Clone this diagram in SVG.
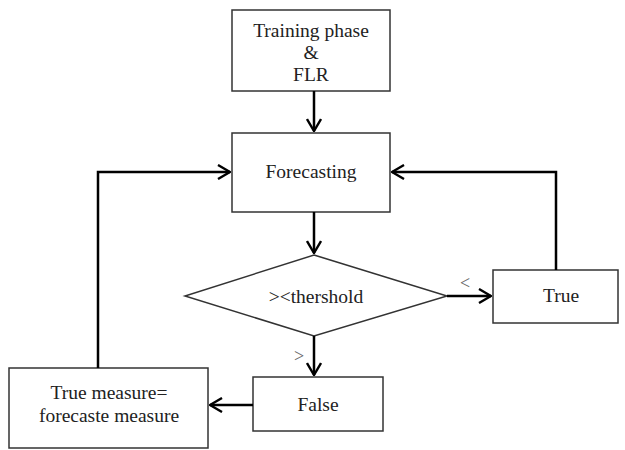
<svg xmlns="http://www.w3.org/2000/svg" width="625" height="450" viewBox="0 0 625 450">
<defs>
<marker id="arr" viewBox="0 0 14 16" refX="13" refY="8" markerWidth="14" markerHeight="16" markerUnits="userSpaceOnUse" orient="auto">
<path d="M1,1 L13,8 L1,15" fill="none" stroke="#000" stroke-width="2.4"/>
</marker>
</defs>
<style>
.box{fill:#fff;stroke:#333;stroke-width:1.5}
.t{font-family:"Liberation Serif","Times New Roman","DejaVu Serif",serif;font-size:19.5px;fill:#222;text-anchor:middle}
.c{fill:none;stroke:#000;stroke-width:2.5}
.lbl{font-family:"Liberation Serif","Times New Roman","DejaVu Serif",serif;font-size:18px;fill:#666;text-anchor:middle}
</style>
<rect width="625" height="450" fill="#fff"/>
<g id="training">
<rect class="box" x="232" y="10" width="158" height="81"/>
<text class="t" x="311" y="37">Training phase</text>
<text class="t" x="311" y="59">&amp;</text>
<text class="t" x="311" y="81">FLR</text>
</g>
<g id="forecasting">
<rect class="box" x="232" y="133" width="158" height="79"/>
<text class="t" x="311" y="178">Forecasting</text>
</g>
<g id="threshold">
<polygon class="box" points="314,255 447,296 314,336 185,296"/>
<text class="t" x="316" y="303">&gt;&lt;thershold</text>
</g>
<g id="true">
<rect class="box" x="493" y="270" width="125" height="53"/>
<text class="t" x="561" y="302">True</text>
</g>
<g id="false">
<rect class="box" x="253" y="377" width="130" height="54"/>
<text class="t" x="318" y="411">False</text>
</g>
<g id="update">
<rect class="box" x="9" y="368" width="199" height="80"/>
<text class="t" x="109" y="399">True measure=</text>
<text class="t" x="109" y="422">forecaste measure</text>
</g>
<g id="connectors">
<line class="c" x1="314" y1="91" x2="314" y2="131" marker-end="url(#arr)"/>
<line class="c" x1="314" y1="212" x2="314" y2="253" marker-end="url(#arr)"/>
<line class="c" x1="447" y1="296" x2="491" y2="296" marker-end="url(#arr)"/>
<polyline class="c" points="556,270 556,172 392,172" marker-end="url(#arr)"/>
<line class="c" x1="314" y1="336" x2="314" y2="375" marker-end="url(#arr)"/>
<line class="c" x1="253" y1="405" x2="210" y2="405" marker-end="url(#arr)"/>
<polyline class="c" points="98,368 98,172 230,172" marker-end="url(#arr)"/>
<text class="lbl" x="465" y="289">&lt;</text>
<text class="lbl" x="299" y="362">&gt;</text>
</g>
</svg>
